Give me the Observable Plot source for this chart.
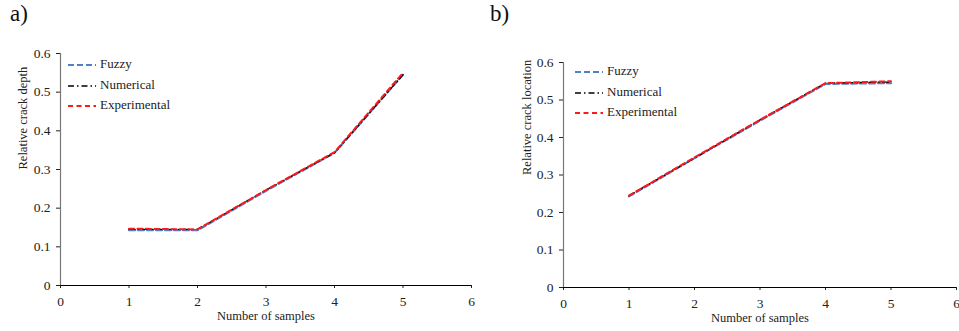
<!DOCTYPE html>
<html><head><meta charset="utf-8">
<script src="https://cdn.jsdelivr.net/npm/d3@7"></script>
<script src="https://cdn.jsdelivr.net/npm/@observablehq/plot@0.6"></script>
<style>
body{margin:0;background:#fff;}
#wrap{position:relative;width:959px;height:331px;}
#wrap, #wrap div, #wrap svg, #wrap svg text{font-family:"Liberation Serif","DejaVu Serif",serif !important;}
.panel{position:absolute;top:0;}
.tag{position:absolute;font-size:23px;top:1px;color:#111;}
.leg{position:absolute;font-size:13px;color:#222;}
.leg div{position:absolute;white-space:nowrap;height:16px;line-height:16px;}
.leg svg{position:absolute;}
</style></head>
<body><div id="wrap"></div>
<script>
const samples = [1, 2, 3, 4, 5];
const seriesNames = ["Fuzzy", "Numerical", "Experimental"];
// Panel a) relative crack depth
const depthFuzzy = [0.143, 0.143, 0.245, 0.343, 0.545];
const depthNumerical = [0.145, 0.145, 0.247, 0.343, 0.545];
const depthExperimental = [0.147, 0.145, 0.247, 0.345, 0.550];
// Panel b) relative crack location
const locFuzzy = [0.243, 0.345, 0.445, 0.543, 0.545];
const locNumerical = [0.245, 0.345, 0.447, 0.545, 0.548];
const locExperimental = [0.245, 0.347, 0.447, 0.545, 0.550];
const xTicks = [0, 1, 2, 3, 4, 5, 6];
const yTicks = [0, 0.1, 0.2, 0.3, 0.4, 0.5, 0.6];
const yTickLabels = ["0", "0.1", "0.2", "0.3", "0.4", "0.5", "0.6"];

const styles = {
  Fuzzy: {stroke: "#4f81c7", strokeWidth: 2.2, strokeDasharray: "6,3"},
  Numerical: {stroke: "#000000", strokeWidth: 1.3, strokeDasharray: "6,3,1.5,3"},
  Experimental: {stroke: "#ff1a1a", strokeWidth: 2, strokeDasharray: "5,3.5"}
};

function rows(vals) { return samples.map((s, i) => ({x: s, y: vals[i]})); }

function panel(cfg) {
  const series = [cfg.fuzzy, cfg.numerical, cfg.experimental];
  const lineMarks = seriesNames.map((n, k) => Plot.line(rows(series[k]), {x: "x", y: "y", ...styles[n]}));
  const yRows = yTicks.map((v, i) => ({v, t: yTickLabels[i]}));
  return Plot.plot({
    width: cfg.width, height: 331,
    marginLeft: cfg.ml, marginRight: cfg.mr, marginTop: cfg.mt, marginBottom: cfg.mb,
    style: {fontFamily: "'Liberation Serif', 'DejaVu Serif', serif", fontSize: "13px", color: "#222", background: "white"},
    x: {domain: [0, 6]},
    y: {domain: [0, 0.6]},
    marks: [
      Plot.axisX({ticks: xTicks, tickSize: 3, tickFormat: () => "", label: null}),
      Plot.axisY({ticks: yTicks, tickSize: 4, tickFormat: () => "", label: null}),
      Plot.text(xTicks, {x: d => d, y: 0, dy: 16, text: d => String(d), fontSize: 13.5, fill: "#222"}),
      Plot.text(yRows, {y: "v", frameAnchor: "left", dx: -10, text: "t", textAnchor: "end", fontSize: 13.5, fill: "#222"}),
      Plot.ruleX([0], {stroke: "#777", strokeWidth: 1.2}),
      Plot.ruleY([0], {stroke: "#000", strokeWidth: 1.2}),
      ...lineMarks,
      Plot.text([cfg.ylabel], {frameAnchor: "left", dx: -cfg.yoff, rotate: -90, fontSize: 12.5, fill: "#222"}),
      Plot.text([cfg.xlabel], {frameAnchor: "bottom", dy: 34, fontSize: 12.5, fill: "#222"})
    ]
  });
}

const wrap = document.getElementById("wrap");
function addPanel(left, tag, cfg, leg) {
  const p = panel(cfg);
  p.classList.add("panel");
  p.style.left = left + "px";
  wrap.appendChild(p);
  const t = document.createElement("div");
  t.className = "tag"; t.textContent = tag; t.style.left = (left + 10) + "px";
  wrap.appendChild(t);
  const lg = document.createElement("div");
  lg.className = "leg";
  lg.style.left = leg.x + "px"; lg.style.top = leg.y + "px";
  seriesNames.forEach((n, k) => {
    const s = styles[n];
    const svg = document.createElementNS("http://www.w3.org/2000/svg", "svg");
    svg.setAttribute("width", 28); svg.setAttribute("height", 6);
    svg.style.left = "0px"; svg.style.top = (k * leg.gap - 3) + "px";
    const ln = document.createElementNS("http://www.w3.org/2000/svg", "line");
    ln.setAttribute("x1", 0); ln.setAttribute("x2", 28); ln.setAttribute("y1", 3); ln.setAttribute("y2", 3);
    ln.setAttribute("stroke", s.stroke); ln.setAttribute("stroke-width", s.strokeWidth);
    ln.setAttribute("stroke-dasharray", s.strokeDasharray);
    svg.appendChild(ln);
    lg.appendChild(svg);
    const d = document.createElement("div");
    d.textContent = n; d.style.left = "32px"; d.style.top = (k * leg.gap - 9) + "px";
    lg.appendChild(d);
  });
  wrap.appendChild(lg);
}

addPanel(0, "a)", {width: 480, ml: 60, mr: 9, mt: 53, mb: 46, yoff: 38,
  fuzzy: depthFuzzy, numerical: depthNumerical, experimental: depthExperimental,
  ylabel: "Relative crack depth", xlabel: "Number of samples"}, {x: 68, y: 65, gap: 20.5});
addPanel(480, "b)", {width: 479, ml: 83, mr: 3, mt: 62, mb: 44, yoff: 37,
  fuzzy: locFuzzy, numerical: locNumerical, experimental: locExperimental,
  ylabel: "Relative crack location", xlabel: "Number of samples"}, {x: 575, y: 72, gap: 20.5});
</script></body></html>
